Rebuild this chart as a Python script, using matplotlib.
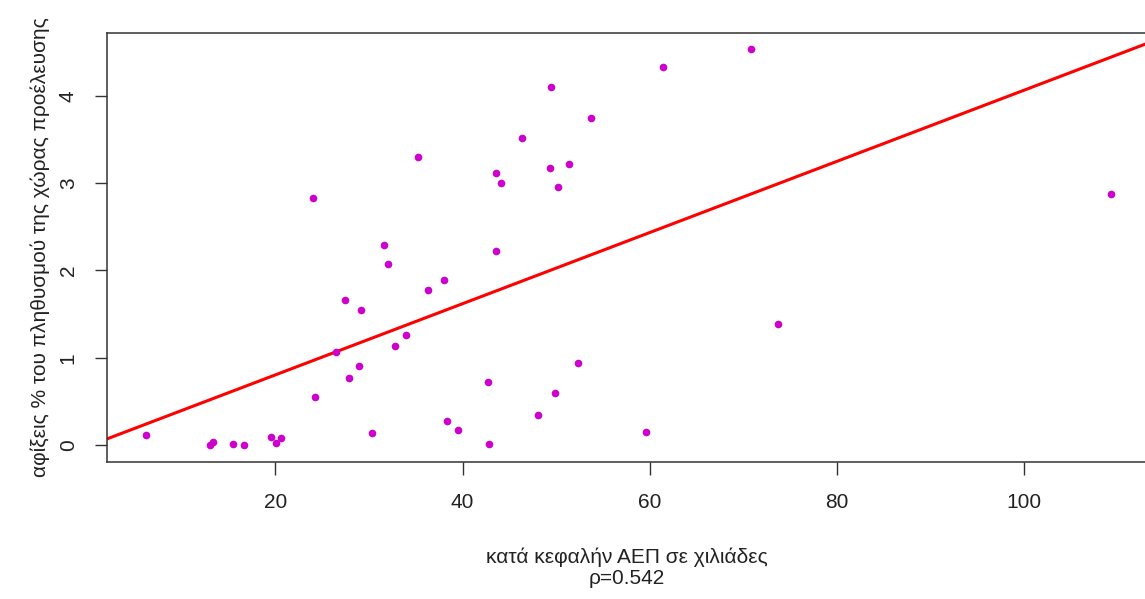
import numpy as np
import matplotlib
matplotlib.use("Agg")
import matplotlib.pyplot as plt

# per capita GDP (thousands) vs arrivals as % of origin population
gdp = [6.2, 13.05, 13.4, 15.5, 16.7, 19.5, 20.1, 20.6, 24.2, 30.3,
       24.0, 31.6, 32.0, 38.0, 36.3, 27.4, 29.2, 34.0, 32.8, 26.5,
       28.9, 27.9, 35.2, 46.4, 43.6, 44.1, 49.3, 51.4, 50.2, 53.7,
       43.6, 49.5, 52.3, 42.7, 49.9, 48.1, 38.3, 39.5, 42.8, 59.6,
       61.4, 70.8, 73.7, 109.3]
arrivals = [0.11, 0.0, 0.03, 0.01, 0.0, 0.09, 0.02, 0.08, 0.55, 0.14,
            2.83, 2.29, 2.07, 1.89, 1.77, 1.66, 1.55, 1.26, 1.13, 1.06,
            0.91, 0.77, 3.30, 3.52, 3.12, 3.00, 3.17, 3.22, 2.96, 3.75,
            2.22, 4.10, 0.94, 0.72, 0.59, 0.34, 0.28, 0.17, 0.01, 0.15,
            4.33, 4.54, 1.39, 2.87]
rho_text = "ρ=0.542"
x_ticks = [20, 40, 60, 80, 100]
y_ticks = [0, 1, 2, 3, 4]

plt.rcParams["font.family"] = ["Liberation Sans", "DejaVu Sans"]

W, H = 1145, 599
fig = plt.figure(figsize=(W / 100, H / 100), dpi=100)
ax = fig.add_axes([107 / W, 1 - 462 / H, (1147 - 107) / W, (462 - 33) / H])

x = np.array(gdp)
y = np.array(arrivals)
ax.plot(x, y, "o", color="#CD00CD", markersize=5.5, markeredgewidth=0, zorder=3)

# least squares line, like abline(lm(y ~ x))
slope, intercept = np.polyfit(x, y, 1)
ax.axline((0, intercept), slope=slope, color="red", linewidth=2.2, zorder=2)

ax.set_xlim(2.03, 113.1)
ax.set_ylim(-0.195, 4.72)
ax.set_xticks(x_ticks)
ax.set_yticks(y_ticks)
ax.set_xticklabels([str(t) for t in x_ticks])
ax.set_yticklabels([str(t) for t in y_ticks], rotation=90, va="center")

ax.tick_params(axis="both", direction="out", length=9, width=1, color="#333333",
               labelsize=15, labelcolor="#222222")
ax.tick_params(axis="x", pad=13)
ax.tick_params(axis="y", pad=12)
for s in ax.spines.values():
    s.set_linewidth(1.1)
    s.set_color("#333333")

ax.set_xlabel("κατά κεφαλήν ΑΕΠ σε χιλιάδες\n" + rho_text, fontsize=15,
              color="#222222", labelpad=26, linespacing=1.15)
ax.set_ylabel("αφίξεις % του πληθυσμού της χώρας προέλευσης", fontsize=15,
              color="#222222", labelpad=6)

fig.savefig("out.png", dpi=100)
